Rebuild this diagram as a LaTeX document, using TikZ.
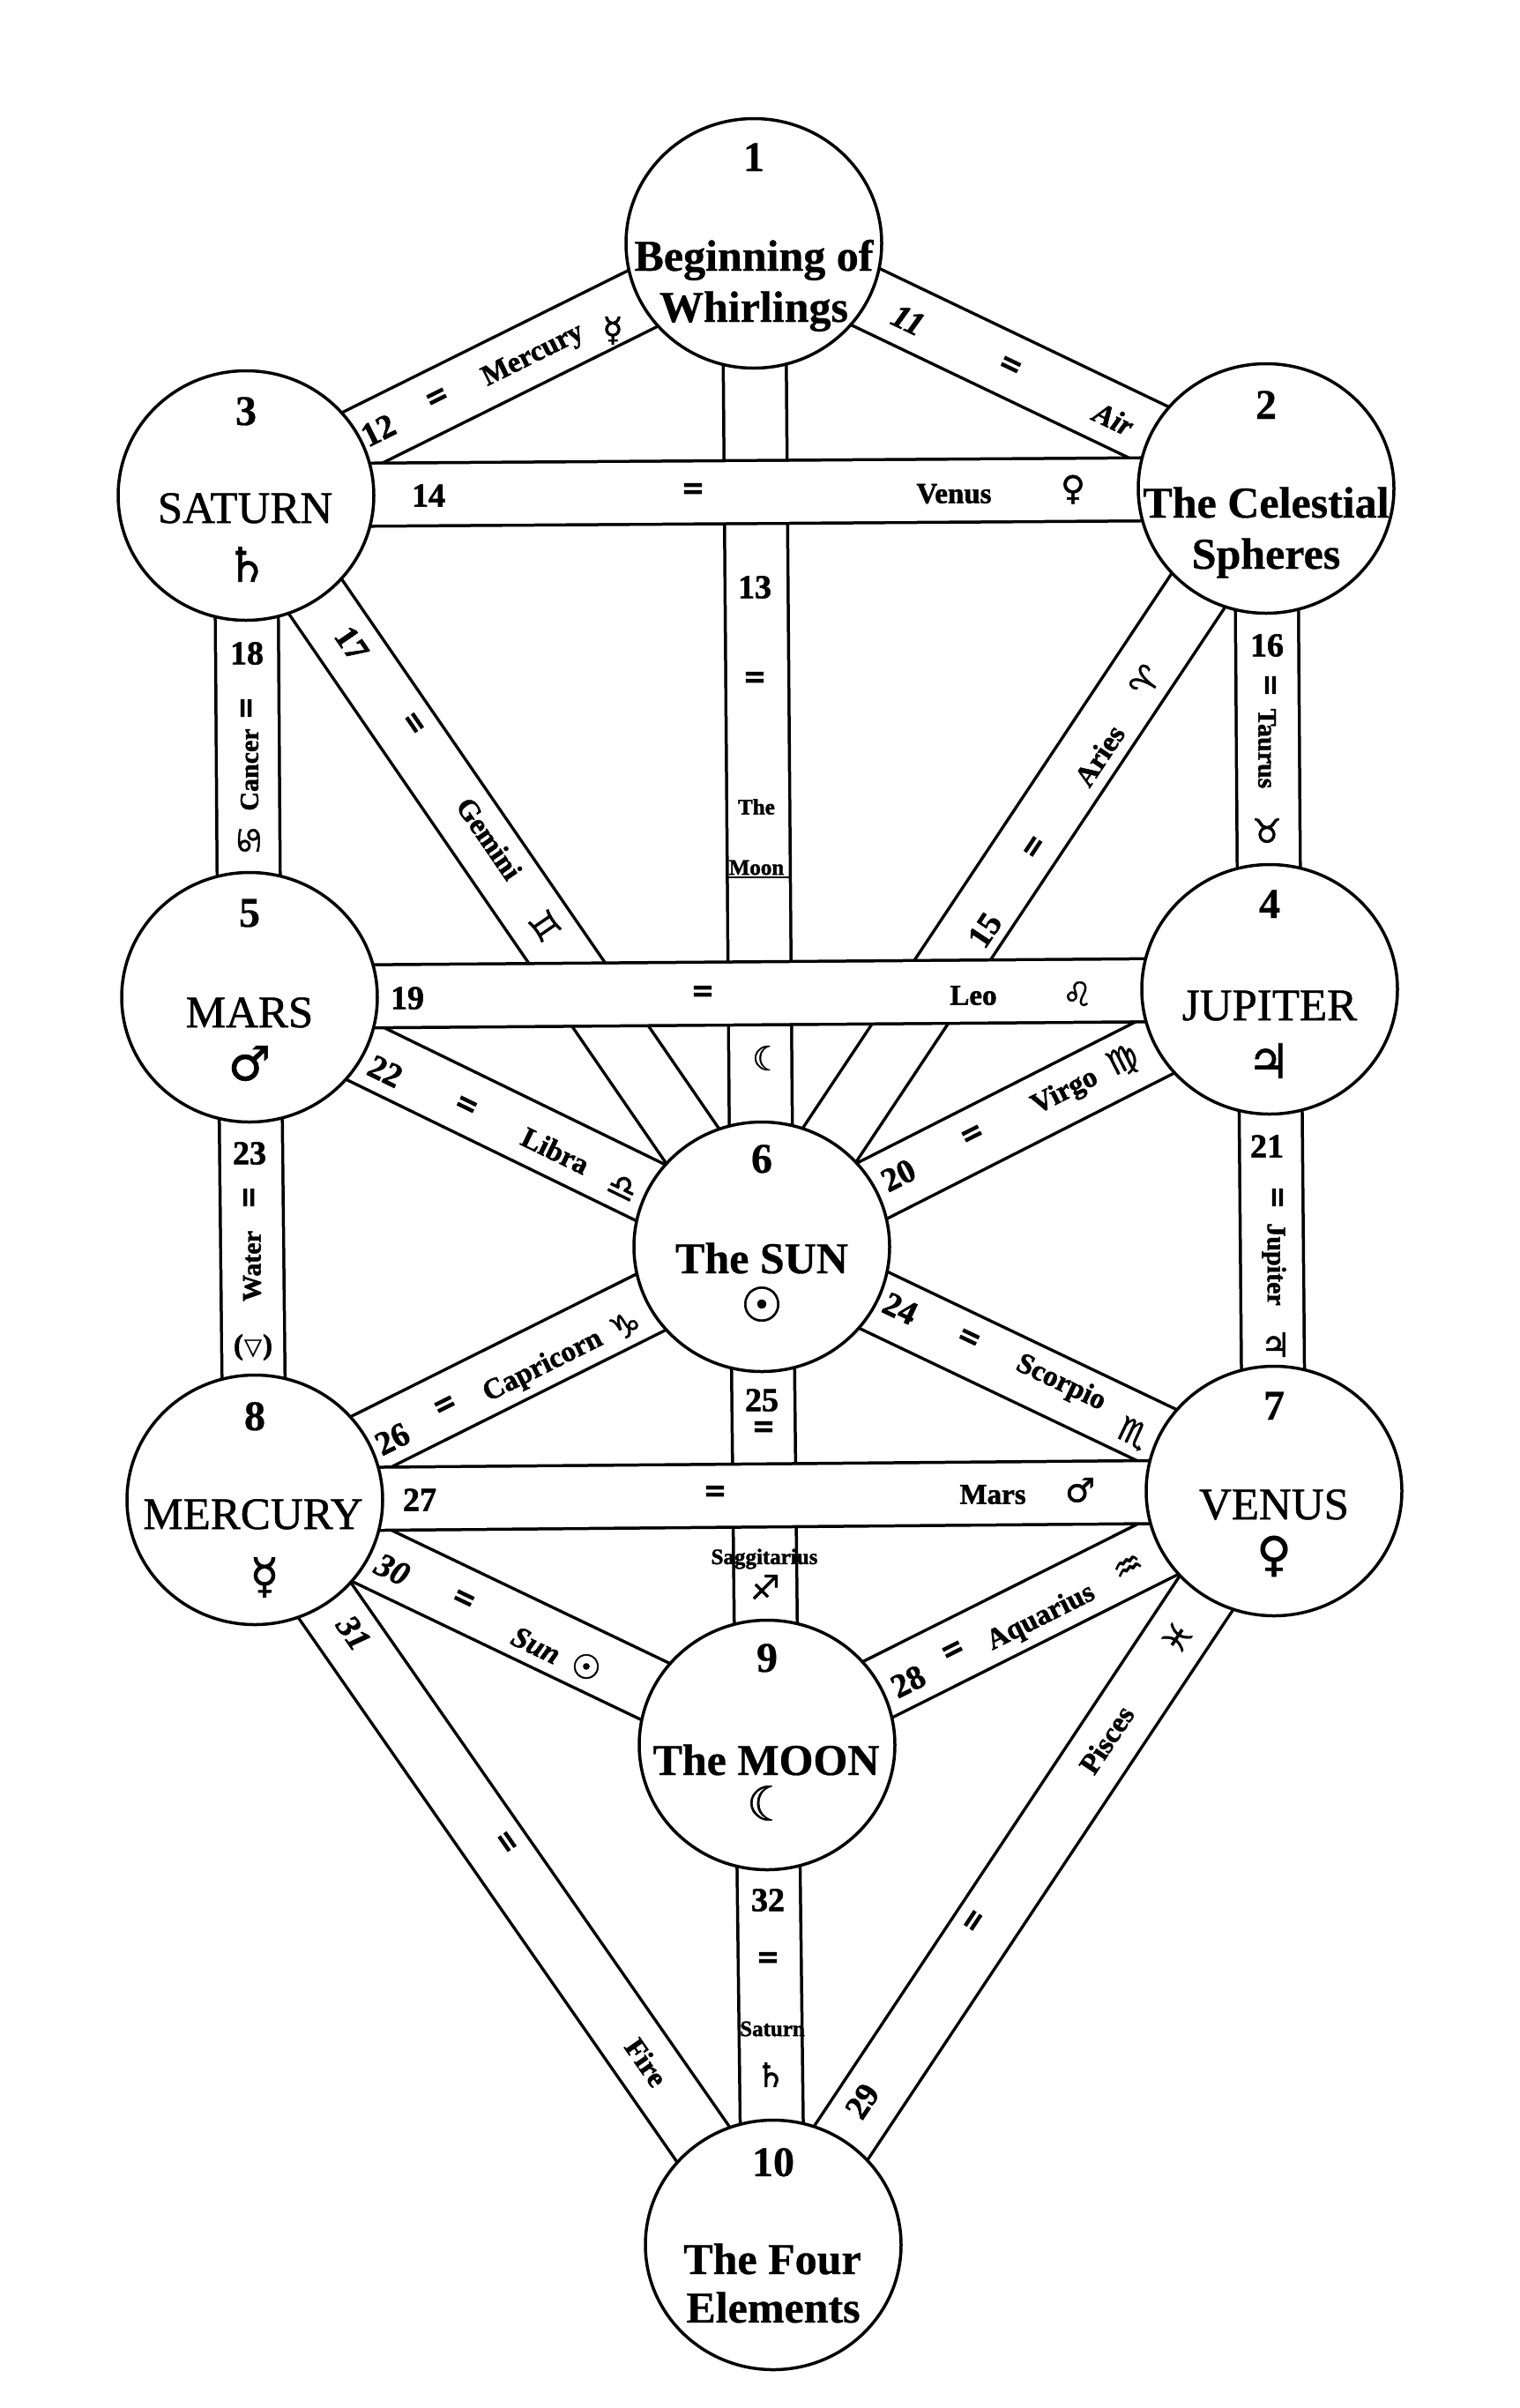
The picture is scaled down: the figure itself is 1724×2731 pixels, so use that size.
\documentclass[tikz,border=0pt]{standalone}
\usepackage{fontspec}
\setmainfont{Liberation Serif}
\newfontfamily\symf{DejaVu Sans}[FakeBold=1.2]
\newfontfamily\hvy{Liberation Serif Bold}[FakeBold=1.5]
\newfontfamily\hvyi{Liberation Serif Bold Italic}[FakeBold=1.5]
\newfontfamily\cbf{Liberation Serif Bold}[FakeBold=0.6]
\newfontfamily\rgh{Liberation Serif}[FakeBold=1.0]
\newfontfamily\eqf{Liberation Serif Bold}[FakeBold=4]
\usetikzlibrary{shapes.geometric}
\pgfdeclarelayer{bottom}
\pgfdeclarelayer{bands}
\pgfsetlayers{bottom,bands,main}
\tikzset{
 sph/.style={draw, line width=3.5pt, fill=white, ellipse, minimum width=290pt, minimum height=283pt, inner sep=0pt},
 band/.style={line width=3.5pt, double=white, double distance=68pt},
 cnum/.style={font=\cbf\fontsize{48}{50}\selectfont, anchor=base, inner sep=0pt},
 cbold/.style={font=\cbf\fontsize{50}{52}\selectfont, anchor=base, inner sep=0pt},
 creg/.style={font=\rgh\fontsize{51}{53}\selectfont, anchor=base, inner sep=0pt},
 csym/.style={font=\symf\fontsize{54}{56}\selectfont, inner sep=0pt},
 pnum/.style={font=\hvy\fontsize{38}{40}\selectfont, inner sep=0pt},
 peq/.style={font=\eqf\fontsize{40}{42}\selectfont, inner sep=0pt},
 pit/.style={font=\hvyi\fontsize{38}{40}\selectfont, inner sep=0pt},
 pname/.style={font=\hvy\fontsize{33}{35}\selectfont, inner sep=0pt},
 pvname/.style={font=\hvy\fontsize{30}{32}\selectfont, inner sep=0pt},
 pnameit/.style={font=\hvyi\fontsize{34}{36}\selectfont, inner sep=0pt},
 psmall/.style={font=\hvy\fontsize{25}{27}\selectfont, inner sep=0pt},
 psym/.style={font=\symf\fontsize{38}{40}\selectfont, inner sep=0pt},
}
\begin{document}
\begin{tikzpicture}[x=1pt,y=-1pt]
\useasboundingbox (0,0) rectangle (1724,2731);
\begin{pgfonlayer}{bottom}
\fill[white] (0,0) rectangle (1724,2731);
\end{pgfonlayer}

% spheres
\node[sph] (n1) at (855,276) {};
\node[sph] (n2) at (1436,554) {};
\node[sph] (n3) at (279,562) {};
\node[sph] (n4) at (1440,1122) {};
\node[sph] (n5) at (283,1131) {};
\node[sph] (n6) at (864,1414) {};
\node[sph] (n7) at (1445,1691) {};
\node[sph] (n8) at (289,1701) {};
\node[sph] (n9) at (870,1979) {};
\node[sph] (n10) at (877,2546) {};

% paths (bands)
\begin{pgfonlayer}{bands}
\foreach \a/\b in {1/3, 1/2, 1/6, 2/4, 2/6, 3/5, 3/6, 4/6, 4/7, 5/6, 5/8, 6/7, 6/8, 6/9, 7/9, 7/10, 8/9, 8/10, 9/10, 3/2, 5/4, 8/7}
  \draw[band] (n\a.center) -- (n\b.center);
\end{pgfonlayer}

% sphere texts
\node[cnum] (t1n) at (855,194) {1};
\node[cbold] (t1a) at (855,307) {Beginning of};
\node[cbold] (t1b) at (855,365) {Whirlings};

\node[cnum] (t2n) at (1436,475) {2};
\node[cbold] (t2a) at (1436,587) {The Celestial};
\node[cbold] (t2b) at (1436,645) {Spheres};

\node[cnum] (t3n) at (279,482) {3};
\node[creg] (t3a) at (278,593) {SATURN};
\node[csym] (t3s) at (280,640) {♄};

\node[cnum] (t4n) at (1440,1041) {4};
\node[creg] (t4a) at (1440,1157) {JUPITER};
\node[csym] (t4s) at (1439,1203) {♃};

\node[cnum] (t5n) at (283,1051) {5};
\node[creg] (t5a) at (283,1165) {MARS};
\node[csym] (t5s) at (283,1206) {♂};

\node[cnum] (t6n) at (864,1330) {6};
\node[cbold] (t6a) at (864,1444) {The SUN};
\node[csym] (t6s) at (864,1479) {☉};

\node[cnum] (t7n) at (1445,1610) {7};
\node[creg] (t7a) at (1445,1723) {VENUS};
\node[csym] (t7s) at (1445,1765) {♀};

\node[cnum] (t8n) at (289,1622) {8};
\node[creg] (t8a) at (287,1734) {MERCURY};
\node[csym] (t8s) at (300,1789) {☿};

\node[cnum] (t9n) at (870,1896) {9};
\node[cbold] (t9a) at (869,2013) {The MOON};
\node[csym] (t9s) at (871,2045) {☾};

\node[cnum] (t10n) at (877,2468) {10};
\node[cbold] (t10a) at (876,2579) {The Four};
\node[cbold] (t10b) at (877,2634) {Elements};

% path 11
\node[pit,rotate=-25.57] (p11n) at (1030,363) {11};
\node[peq,rotate=-25.57] (p11e) at (1145,417) {=};
\node[pnameit,rotate=-25.57] (p11t) at (1263,475) {Air};
% path 12
\node[pnum,rotate=26.41] (p12n) at (429,488) {12};
\node[peq,rotate=26.41] (p12e) at (497,453) {=};
\node[pname,rotate=26.41] (p12t) at (605,404) {Mercury};
\node[psym] (p12s) at (695,375) {☿};
% path 13
\node[pnum] (p13n) at (856,666) {13};
\node[peq] (p13e) at (856,772) {=};
\node[psmall] (p13t) at (858,915) {The};
\node[psmall] (p13u) at (858,984) {Moon};
\draw[line width=2.5pt] (823,995) -- (895,995);
\node[psym] (p13s) at (870,1200) {☾};
% path 14
\node[pnum] (p14n) at (486,562) {14};
\node[peq] (p14e) at (786,558) {=};
\node[pname] (p14t) at (1082,560) {Venus};
\node[psym] (p14s) at (1217,555) {♀};
% path 15
\node[pnum,rotate=56.37] (p15n) at (1117,1055) {15};
\node[peq,rotate=56.37] (p15e) at (1175,962) {=};
\node[pname,rotate=56.37] (p15t) at (1247,857) {Aries};
\node[psym,rotate=56.37] (p15s) at (1299,772) {♈};
% path 16
\node[pnum] (p16n) at (1437,732) {16};
\node[peq,rotate=-90] (p16e) at (1437,777) {=};
\node[pvname,rotate=-90] (p16t) at (1437,849) {Taurus};
\node[psym] (p16s) at (1437,942) {♉};
% path 17
\node[pnum,rotate=-55.53] (p17n) at (399,730) {17};
\node[peq,rotate=-55.53] (p17e) at (467,822) {=};
\node[pname,rotate=-55.53] (p17t) at (555,951) {Gemini};
\node[psym,rotate=-55.53] (p17s) at (618,1050) {♊};
% path 18
\node[pnum] (p18n) at (280,741) {18};
\node[peq,rotate=90] (p18e) at (283,803) {=};
\node[pvname,rotate=90] (p18t) at (283,873) {Cancer};
\node[psym,rotate=90] (p18s) at (283,953) {♋};
% path 19
\node[pnum] (p19n) at (462,1132) {19};
\node[peq] (p19e) at (797,1128) {=};
\node[pname] (p19t) at (1104,1129) {Leo};
\node[psym] (p19s) at (1222,1127) {♌};
% path 20
\node[pnum,rotate=26.88] (p20n) at (1019,1333) {20};
\node[peq,rotate=26.88] (p20e) at (1104,1289) {=};
\node[pname,rotate=26.88] (p20t) at (1208,1239) {Virgo};
\node[psym,rotate=26.88] (p20s) at (1274,1204) {♍};
% path 21
\node[pnum] (p21n) at (1437,1300) {21};
\node[peq,rotate=-90] (p21e) at (1445,1358) {=};
\node[pvname,rotate=-90] (p21t) at (1445,1434) {Jupiter};
\node[psym] (p21s) at (1447,1525) {♃};
% path 22
\node[pnum,rotate=-25.97] (p22n) at (437,1215) {22};
\node[peq,rotate=-25.97] (p22e) at (528,1256) {=};
\node[pname,rotate=-25.97] (p22t) at (630,1305) {Libra};
\node[psym,rotate=-25.97] (p22s) at (706,1347) {♎};
% path 23
\node[pnum] (p23n) at (283,1308) {23};
\node[peq,rotate=90] (p23e) at (286,1358) {=};
\node[pvname,rotate=90] (p23t) at (286,1436) {Water};
\node[pname] (p23s) at (287,1528) {(\kern1pt{\symf\fontsize{26}{28}\selectfont ▽}\kern1pt)};
% path 24
\node[pnum,rotate=-25.49] (p24n) at (1021,1484) {24};
\node[peq,rotate=-25.49] (p24e) at (1098,1520) {=};
\node[pname,rotate=-25.49] (p24t) at (1203,1569) {Scorpio};
\node[psym,rotate=-25.49] (p24s) at (1285,1626) {♏};
% path 25
\node[pnum] (p25n) at (864,1588) {25};
\node[peq] (p25e) at (866,1622) {=};
\node[psmall] (p25t) at (867,1768) {Saggitarius};
\node[psym] (p25s) at (868,1800) {♐};
% path 26
\node[pnum,rotate=26.52] (p26n) at (445,1632) {26};
\node[peq,rotate=26.52] (p26e) at (506,1596) {=};
\node[pname,rotate=26.52] (p26t) at (616,1550) {Capricorn};
\node[psym,rotate=26.52] (p26s) at (709,1503) {♑};
% path 27
\node[pnum] (p27n) at (476,1701) {27};
\node[peq] (p27e) at (811,1695) {=};
\node[pname] (p27t) at (1126,1695) {Mars};
\node[psym] (p27s) at (1225,1690) {♂};
% path 28
\node[pnum,rotate=26.61] (p28n) at (1030,1907) {28};
\node[peq,rotate=26.61] (p28e) at (1082,1874) {=};
\node[pname,rotate=26.61] (p28t) at (1181,1835) {Aquarius};
\node[psym,rotate=26.61] (p28s) at (1280,1778) {♒};
% path 29
\node[pnum,rotate=56.41] (p29n) at (978,2383) {29};
\node[peq,rotate=56.41] (p29e) at (1107,2180) {=};
\node[pname,rotate=56.41] (p29t) at (1255,1973) {Pisces};
\node[psym,rotate=56.41] (p29s) at (1335,1857) {♓};
% path 30
\node[pit,rotate=-25.57] (p30n) at (445,1780) {30};
\node[peq,rotate=-25.57] (p30e) at (525,1816) {=};
\node[pnameit,rotate=-25.57] (p30t) at (608,1866) {Sun};
\node[psym] (p30s) at (665,1890) {☉};
% path 31
\node[pit,rotate=-55.17] (p31n) at (401,1852) {31};
\node[peq,rotate=-55.17] (p31e) at (572,2091) {=};
\node[pname,rotate=-55.17] (p31t) at (733,2339) {Fire};
% path 32
\node[pnum] (p32n) at (871,2155) {32};
\node[peq] (p32e) at (871,2224) {=};
\node[psmall] (p32t) at (876,2301) {Saturn};
\node[psym] (p32s) at (874,2353) {♄};
\end{tikzpicture}
\end{document}
